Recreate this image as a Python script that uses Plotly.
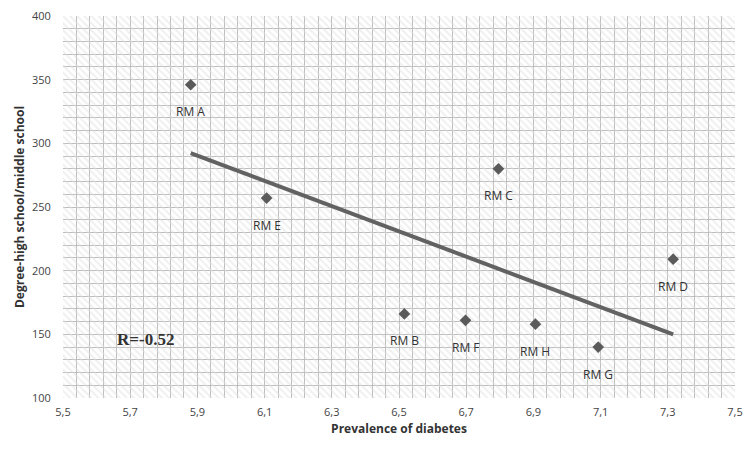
import numpy as np
import plotly.graph_objects as go

# Data
regions = ["RM A", "RM B", "RM C", "RM D", "RM E", "RM F", "RM G", "RM H"]
prevalence = [5.88, 6.516, 6.796, 7.316, 6.106, 6.698, 7.093, 6.906]
degree = [346, 166, 280, 209, 257, 161, 140, 158]

x_range = [5.5, 7.5]
y_range = [100, 400]
x_ticks = [5.5, 5.7, 5.9, 6.1, 6.3, 6.5, 6.7, 6.9, 7.1, 7.3, 7.5]
y_ticks = [100, 150, 200, 250, 300, 350, 400]
r_label = "R=-0.52"

# Linear trend
slope, intercept = np.polyfit(prevalence, degree, 1)
tx = np.array([min(prevalence), max(prevalence)])
ty = slope * tx + intercept

fig = go.Figure()

# Hatched background filling the plot area
fig.add_trace(go.Bar(
    x=[(x_range[0] + x_range[1]) / 2], y=[y_range[1] - y_range[0]], base=[y_range[0]],
    width=[x_range[1] - x_range[0]],
    marker=dict(color="rgba(0,0,0,0)", line=dict(width=0),
                pattern=dict(shape="\\", fgcolor="#e0e0e0", bgcolor="rgba(0,0,0,0)",
                             size=5, solidity=0.4)),
    hoverinfo="skip", showlegend=False))

fig.add_trace(go.Scatter(
    x=tx, y=ty, mode="lines",
    line=dict(color="#626262", width=4), showlegend=False, hoverinfo="skip"))

fig.add_trace(go.Scatter(
    x=prevalence, y=degree, mode="markers",
    marker=dict(symbol="diamond", size=9, color="#5a5a5a"),
    showlegend=False))

for name, xv, yv in zip(regions, prevalence, degree):
    fig.add_annotation(x=xv, y=yv, text=name, showarrow=False, yshift=-27,
                       font=dict(family="Open Sans", size=12, color="#333333"))

fig.add_annotation(x=5.745, y=146, text="<b>" + r_label + "</b>", showarrow=False,
                   font=dict(family="Liberation Serif", size=17, color="#333333"))

grid_color = "#bcbcbc"
fig.update_layout(
    width=748, height=446,
    margin=dict(l=55, r=21, t=8, b=56),
    paper_bgcolor="white", plot_bgcolor="white",
    separators=",.",
    bargap=0,
    font=dict(family="Open Sans", color="#444444"),
    xaxis=dict(range=x_range, tickvals=x_ticks, tickformat=".1f", automargin=False,
               ticklabeloverflow="allow",
               showgrid=True, gridcolor=grid_color, gridwidth=1,
               minor=dict(tick0=x_range[0], dtick=0.04, showgrid=True,
                          gridcolor=grid_color, gridwidth=1),
               zeroline=False, showline=False,
               ticks="outside", ticklen=4, tickcolor="rgba(0,0,0,0)",
               tickfont=dict(size=11, color="#444444"),
               title=dict(text="<b>Prevalence of diabetes</b>", standoff=6,
                          font=dict(size=12, color="#333333"))),
    yaxis=dict(range=y_range, tickvals=y_ticks, automargin=False,
               ticklabeloverflow="allow",
               showgrid=True, gridcolor=grid_color, gridwidth=1,
               minor=dict(tick0=y_range[0], dtick=10, showgrid=True,
                          gridcolor=grid_color, gridwidth=1),
               zeroline=False, showline=False,
               ticks="outside", ticklen=9, tickcolor="rgba(0,0,0,0)",
               tickfont=dict(size=11, color="#444444"),
               title=dict(text="<b>Degree-high school/middle school</b>", standoff=4,
                          font=dict(size=12, color="#333333"))),
)

fig.write_html("out.html")
